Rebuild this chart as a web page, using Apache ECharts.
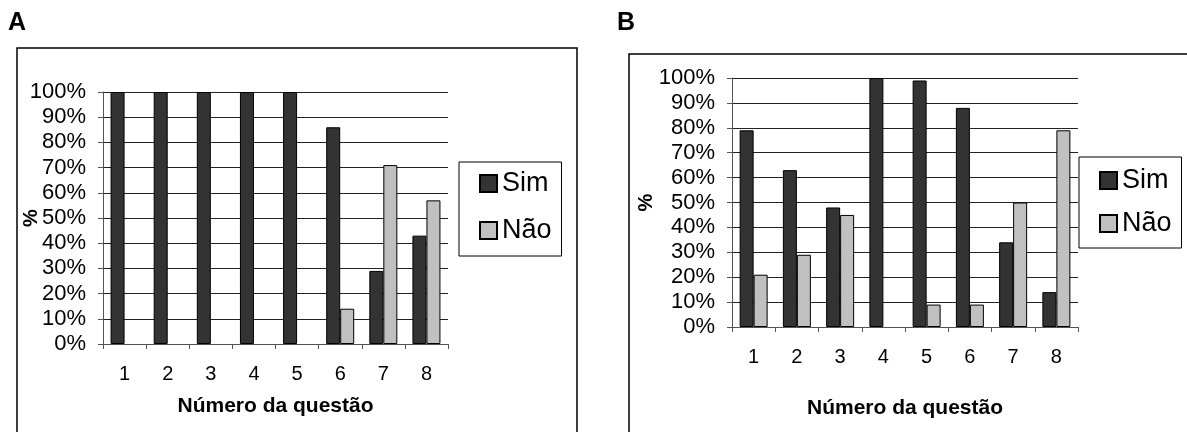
<!DOCTYPE html>
<html>
<head>
<meta charset="utf-8">
<script src="https://cdn.jsdelivr.net/npm/echarts@6/dist/echarts.min.js"></script>
<style>
html,body{margin:0;padding:0;background:#fff;}
#chart{width:1187px;height:432px;}
</style>
</head>
<body>
<div id="chart"></div>
<script>
const categories = ['1','2','3','4','5','6','7','8'];
const simA = [100, 100, 100, 100, 100, 86, 29, 43];
const naoA = [0, 0, 0, 0, 0, 14, 71, 57];
const simB = [79, 63, 48, 100, 99, 88, 34, 14];
const naoB = [21, 29, 45, 0, 9, 9, 50, 79];
const seriesNames = ['Sim', 'Não'];
const xTitle = 'Número da questão';
const yTitle = '%';
const panelLabels = ['A', 'B'];

const FONT = "'Liberation Sans', Arial, sans-serif";
const chart = echarts.init(document.getElementById('chart'), null, {renderer: 'canvas'});

function xAxisCfg(gridIndex, nameGap) {
  return {
    type: 'category', gridIndex, data: categories,
    axisLine: {lineStyle: {color: '#555', width: 1}},
    axisTick: {show: true, length: 5, lineStyle: {color: '#555'}},
    axisLabel: {color: '#000', fontSize: 20, fontFamily: FONT, margin: 20},
    name: xTitle, nameLocation: 'middle', nameGap, nameMoveOverlap: false,
    nameTextStyle: {color: '#000', fontSize: 21, fontWeight: 'bold', fontFamily: FONT}
  };
}
function yAxisCfg(gridIndex, nameGap) {
  return {
    type: 'value', gridIndex, min: 0, max: 100, interval: 10,
    axisLine: {show: true, lineStyle: {color: '#555', width: 1}},
    axisTick: {show: true, length: 5, lineStyle: {color: '#555'}},
    axisLabel: {color: '#000', fontSize: 22, fontFamily: FONT, margin: 17, formatter: v => v + '%'},
    splitLine: {show: true, lineStyle: {color: '#222', width: 1}},
    name: yTitle, nameLocation: 'middle', nameGap, nameRotate: 90, nameMoveOverlap: false,
    nameTextStyle: {color: '#000', fontSize: 20, fontWeight: 'bold', fontFamily: FONT}
  };
}
function barSeries(name, data, idx, color) {
  return {
    type: 'bar', name, xAxisIndex: idx, yAxisIndex: idx,
    data: data.map(v => v === 0 ? {value: v, itemStyle: {borderWidth: 0}} : v),
    barWidth: 14, barGap: '0%',
    itemStyle: {color, borderColor: '#000', borderWidth: 1},
    emphasis: {disabled: true}, animation: false
  };
}
function legendCfg(left, top, gap, padding) {
  return {
    orient: 'vertical', left, top, itemGap: gap, padding,
    itemWidth: 17, itemHeight: 17, icon: 'rect',
    borderColor: '#000', borderWidth: 1,
    textStyle: {color: '#000', fontSize: 27, fontFamily: FONT},
    data: seriesNames
  };
}

chart.setOption({
  animation: false,
  backgroundColor: '#fff',
  graphic: [
    {type: 'rect', shape: {x: 17, y: 48, width: 560, height: 400}, style: {fill: 'none', stroke: '#000', lineWidth: 1.5}, silent: true},
    {type: 'rect', shape: {x: 629, y: 54, width: 600, height: 400}, style: {fill: 'none', stroke: '#000', lineWidth: 1.5}, silent: true},
    {type: 'text', left: 8, top: 11, style: {text: panelLabels[0], fontSize: 25, fontWeight: 'bold', fontFamily: FONT, fill: '#000'}},
    {type: 'text', left: 617, top: 11, style: {text: panelLabels[1], fontSize: 25, fontWeight: 'bold', fontFamily: FONT, fill: '#000'}}
  ],
  grid: [
    {left: 103, top: 92, width: 345, height: 252},
    {left: 732, top: 78, width: 346, height: 249}
  ],
  xAxis: [xAxisCfg(0, 52), xAxisCfg(1, 71)],
  yAxis: [yAxisCfg(0, 62), yAxisCfg(1, 76)],
  legend: [
    legendCfg(459, 162, 20, [8, 10, 12, 20]),
    legendCfg(1079, 157, 16, [10, 10, 11, 20])
  ],
  series: [
    barSeries(seriesNames[0], simA, 0, '#333333'),
    barSeries(seriesNames[1], naoA, 0, '#c0c0c0'),
    barSeries(seriesNames[0], simB, 1, '#333333'),
    barSeries(seriesNames[1], naoB, 1, '#c0c0c0')
  ]
});
</script>
</body>
</html>
